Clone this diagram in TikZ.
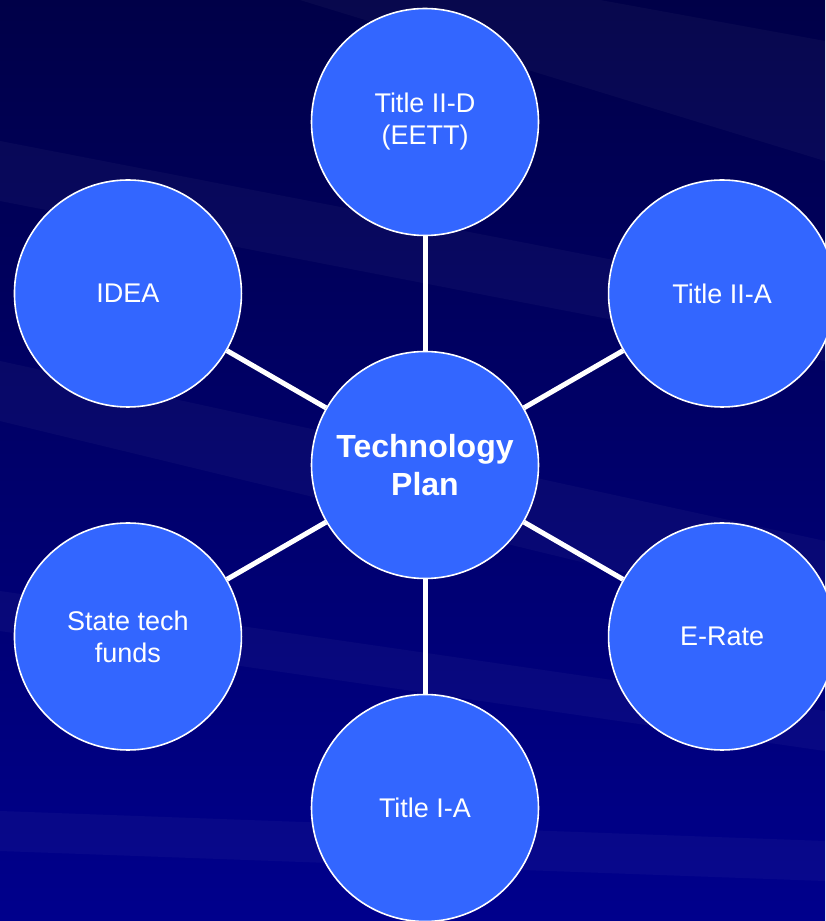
\documentclass[tikz,border=0pt]{standalone}
\usepackage{fontspec}
\setmainfont{Liberation Sans}
\usetikzlibrary{calc,backgrounds}
\definecolor{navytop}{RGB}{0,0,72}
\definecolor{navybot}{RGB}{0,0,140}
\definecolor{bubble}{RGB}{51,102,255}
\tikzset{
  bubble/.style={circle,draw=white,line width=1.6pt,fill=bubble,minimum size=227pt,
    inner sep=0pt,text=white,align=center,font=\fontsize{27}{32}\selectfont},
  hub/.style={bubble,font=\bfseries\fontsize{32}{38}\selectfont},
  spoke/.style={white,line width=5pt},
  streak/.style={fill=white,opacity=0.03}
}
\begin{document}
\begin{tikzpicture}[x=1pt,y=1pt]
  \useasboundingbox (0,0) rectangle (825,921);

  %hub
  \node[hub] (plan) at (425,456) {Technology\\Plan};

  %outer bubbles
  \foreach \ang/\nm/\txt in {90/eett/{Title II-D\\(EETT)}, 30/twoa/{Title II-A},
      -30/erate/{E-Rate}, -90/onea/{Title I-A}, -150/state/{State tech\\funds},
      150/idea/{IDEA}} {
    \node[bubble] (\nm) at ($(plan)+(\ang:343)$) {\txt};
  }

  \begin{pgfonlayer}{background}
    % backdrop with faint streaks
    \shade[top color=navytop,bottom color=navybot] (0,0) rectangle (825,921);
    \fill[streak] (0,780) -- (825,620) -- (825,560) -- (0,720) -- cycle;
    \fill[streak] (0,560) -- (825,380) -- (825,300) -- (0,500) -- cycle;
    \fill[streak] (0,330) -- (825,210) -- (825,170) -- (0,290) -- cycle;
    \fill[streak] (0,110) -- (825,80) -- (825,40) -- (0,70) -- cycle;
    \fill[streak] (300,921) -- (825,760) -- (825,880) -- (600,921) -- cycle;
    %spokes
    \foreach \nm in {eett,twoa,erate,onea,state,idea}
      \draw[spoke] (plan) -- (\nm);
  \end{pgfonlayer}
\end{tikzpicture}
\end{document}
